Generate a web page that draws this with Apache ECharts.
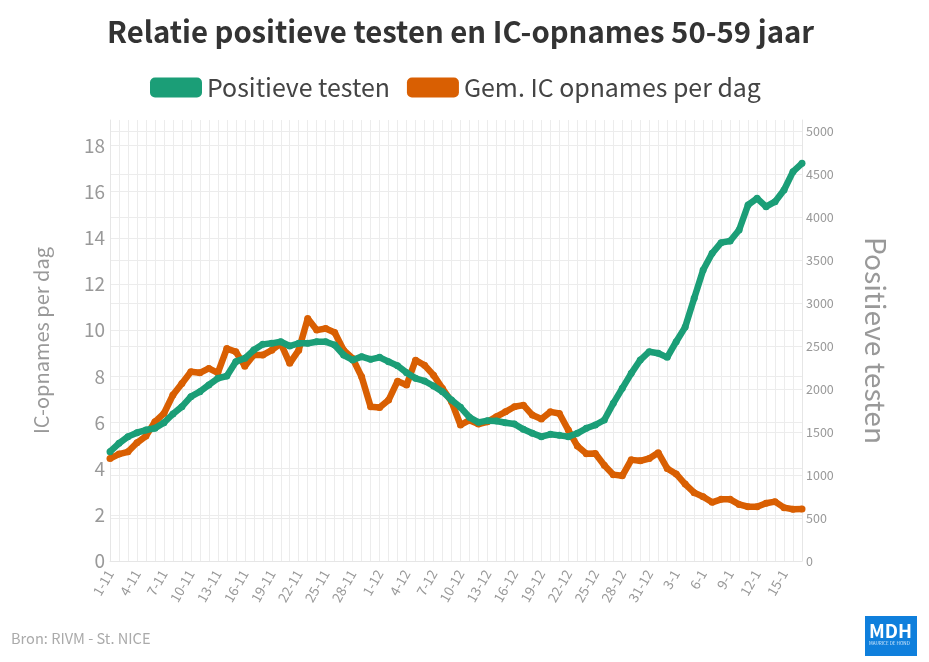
<!DOCTYPE html>
<html>
<head>
<meta charset="utf-8">
<style>
html, body { margin: 0; padding: 0; background: #fff; }
#chart { width: 929px; height: 662px; }
</style>
<script src="https://cdn.jsdelivr.net/npm/echarts@6/dist/echarts.min.js"></script>
</head>
<body>
<div id="chart"></div>
<script>
const categories = [
    '1-11','2-11','3-11','4-11','5-11','6-11','7-11','8-11','9-11','10-11',
    '11-11','12-11','13-11','14-11','15-11','16-11','17-11','18-11','19-11','20-11',
    '21-11','22-11','23-11','24-11','25-11','26-11','27-11','28-11','29-11','30-11',
    '1-12','2-12','3-12','4-12','5-12','6-12','7-12','8-12','9-12','10-12',
    '11-12','12-12','13-12','14-12','15-12','16-12','17-12','18-12','19-12','20-12',
    '21-12','22-12','23-12','24-12','25-12','26-12','27-12','28-12','29-12','30-12','31-12',
    '1-1','2-1','3-1','4-1','5-1','6-1','7-1','8-1','9-1','10-1',
    '11-1','12-1','13-1','14-1','15-1','16-1','17-1'
];
const positieveTesten = [
    1271,1368,1446,1492,1523,1543,1608,1709,1795,1911,
    1969,2047,2124,2151,2318,2357,2453,2519,2531,2550,
    2500,2531,2531,2550,2550,2512,2395,2337,2376,2345,
    2368,2318,2271,2190,2124,2093,2035,1969,1872,1787,
    1671,1612,1632,1628,1608,1593,1531,1485,1446,1473,
    1461,1446,1485,1543,1581,1640,1833,2008,2182,2337,
    2434,2415,2368,2550,2720,3054,3384,3578,3702,3721,
    3849,4140,4217,4120,4178,4314,4527,4624
];
const icOpnames = [
    4.44,4.63,4.73,5.12,5.41,6.03,6.39,7.19,7.69,8.2,
    8.15,8.34,8.15,9.2,9.06,8.44,8.92,8.92,9.13,9.42,
    8.56,9.13,10.5,10.0,10.07,9.9,9.13,8.77,7.98,6.68,
    6.65,6.97,7.79,7.62,8.7,8.48,8.05,7.47,6.9,5.89,
    6.1,5.93,6.03,6.25,6.46,6.68,6.75,6.32,6.15,6.46,
    6.39,5.67,4.98,4.65,4.66,4.15,3.74,3.69,4.38,4.34,
    4.44,4.69,4.01,3.77,3.33,2.96,2.78,2.54,2.67,2.67,
    2.45,2.35,2.35,2.5,2.57,2.31,2.24,2.25
];

const fontName = '"Noto Sans CJK SC", "Noto Sans", sans-serif';
const green = '#1b9e77';
const orange = '#d95f02';
const gridColor = '#ececec';
const labelColor = '#999999';

const chart = echarts.init(document.getElementById('chart'));
chart.setOption({
    animation: false,
    textStyle: { fontFamily: fontName },
    title: {
        text: 'Relatie positieve testen en IC-opnames 50-59 jaar',
        left: 102,
        top: 12,
        textStyle: { fontFamily: fontName, fontSize: 29.3, fontWeight: 'bold', color: '#333333' }
    },
    legend: {
        top: 70,
        left: 145,
        icon: 'roundRect',
        itemWidth: 52,
        itemHeight: 20,
        itemGap: 17,
        textStyle: { fontFamily: fontName, fontSize: 24.9, color: '#444444' },
        data: ['Positieve testen', 'Gem. IC opnames per dag']
    },
    grid: { left: 110, right: 127, top: 120, bottom: 101 },
    xAxis: {
        type: 'category',
        boundaryGap: false,
        data: categories,
        axisLine: { lineStyle: { color: '#e6e6e6', width: 1 } },
        axisTick: { show: false },
        axisLabel: {
            interval: 2,
            rotate: 60,
            fontFamily: fontName,
            fontSize: 13.5,
            color: labelColor,
            margin: 10
        },
        splitLine: { show: true, interval: 0, lineStyle: { color: gridColor, width: 1 } }
    },
    yAxis: [
        {
            type: 'value',
            min: 0,
            max: 19.1,
            interval: 2,
            name: 'IC-opnames per dag',
            nameLocation: 'middle',
            nameGap: 59,
            nameTextStyle: { fontFamily: fontName, fontSize: 20, color: labelColor },
            axisLine: { show: true, lineStyle: { color: '#e6e6e6' } },
            axisTick: { show: false },
            axisLabel: { fontFamily: fontName, fontSize: 19, color: labelColor, margin: 5, showMaxLabel: false },
            splitLine: { show: true, showMaxLine: false, lineStyle: { color: gridColor, width: 1 } }
        },
        {
            type: 'value',
            min: 0,
            max: 5128,
            interval: 500,
            name: 'Positieve testen',
            nameLocation: 'middle',
            nameGap: 60,
            nameRotate: -90,
            nameTextStyle: { fontFamily: fontName, fontSize: 28.2, color: labelColor },
            axisLine: { show: true, lineStyle: { color: '#e6e6e6' } },
            axisTick: { show: false },
            axisLabel: {
                fontFamily: fontName,
                fontSize: 12.5,
                color: labelColor,
                margin: 4,
                showMaxLabel: false,
                formatter: value => String(value)
            },
            splitLine: { show: true, showMaxLine: false, lineStyle: { color: gridColor, width: 1 } }
        }
    ],
    series: [
        {
            name: 'Positieve testen',
            type: 'line',
            yAxisIndex: 1,
            data: positieveTesten,
            z: 4,
            symbol: 'circle',
            symbolSize: 7,
            showAllSymbol: true,
            lineStyle: { color: green, width: 6.5 },
            itemStyle: { color: green }
        },
        {
            name: 'Gem. IC opnames per dag',
            type: 'line',
            yAxisIndex: 0,
            data: icOpnames,
            z: 3,
            symbol: 'circle',
            symbolSize: 7,
            showAllSymbol: true,
            lineStyle: { color: orange, width: 6.5 },
            itemStyle: { color: orange }
        }
    ],
    graphic: [
        {
            type: 'text',
            left: 11,
            top: 631,
            style: { text: 'Bron: RIVM - St. NICE', fontFamily: fontName, fontSize: 14.6, fill: '#aaaaaa' }
        },
        {
            type: 'rect',
            left: 865,
            top: 616,
            shape: { width: 52, height: 40 },
            style: { fill: '#0f7fdc' }
        },
        {
            type: 'text',
            left: 869,
            top: 622,
            style: { text: 'MDH', fontFamily: fontName, fontSize: 18.5, fontWeight: 'bold', fill: '#ffffff' }
        },
        {
            type: 'text',
            left: 869,
            top: 641,
            style: { text: 'MAURICE DE HOND', fontFamily: fontName, fontSize: 4.6, fill: '#d5eafc' }
        }
    ]
});
</script>
</body>
</html>
